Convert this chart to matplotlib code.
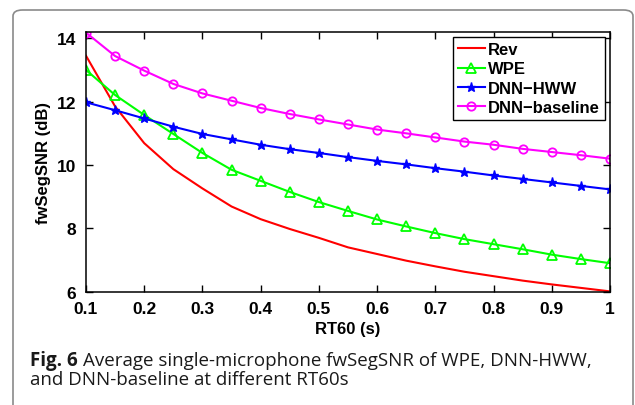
import matplotlib
matplotlib.use("Agg")
import matplotlib.pyplot as plt
from matplotlib.patches import FancyBboxPatch

rt60 = [0.10, 0.15, 0.20, 0.25, 0.30, 0.35, 0.40, 0.45, 0.50, 0.55,
        0.60, 0.65, 0.70, 0.75, 0.80, 0.85, 0.90, 0.95, 1.00]
rev = [13.45, 11.85, 10.69, 9.87, 9.26, 8.69, 8.29, 7.98, 7.70, 7.40,
       7.19, 6.98, 6.80, 6.63, 6.49, 6.35, 6.23, 6.12, 6.01]
wpe = [13.00, 12.21, 11.58, 10.98, 10.38, 9.85, 9.50, 9.15, 8.83, 8.55,
       8.28, 8.06, 7.85, 7.66, 7.50, 7.34, 7.17, 7.03, 6.90]
dnn_hww = [11.98, 11.73, 11.47, 11.21, 10.98, 10.81, 10.64, 10.50, 10.38, 10.25,
           10.13, 10.02, 9.90, 9.79, 9.67, 9.56, 9.45, 9.34, 9.23]
dnn_base = [14.18, 13.44, 12.98, 12.56, 12.26, 12.03, 11.80, 11.61, 11.44, 11.28,
            11.12, 11.00, 10.87, 10.74, 10.64, 10.51, 10.41, 10.31, 10.20]
xticks = [0.1, 0.2, 0.3, 0.4, 0.5, 0.6, 0.7, 0.8, 0.9, 1]
xticklabels = ["0.1", "0.2", "0.3", "0.4", "0.5", "0.6", "0.7", "0.8", "0.9", "1"]
yticks = [6, 8, 10, 12, 14]
caption_bold = "Fig. 6"
caption_line1 = "Average single-microphone fwSegSNR of WPE, DNN-HWW,"
caption_line2 = "and DNN-baseline at different RT60s"

W, H = 635, 406
fig = plt.figure(figsize=(W / 100, H / 100), dpi=100)
fig.patch.set_facecolor("white")

# outer rounded frame
frame = FancyBboxPatch((13 / W, -0.2), (633 - 13) / W, (H - 11) / H + 0.2,
                       boxstyle="round,pad=0,rounding_size=0.015",
                       transform=fig.transFigure, facecolor="white",
                       edgecolor="#8a8a8a", linewidth=1.2, zorder=-10)
fig.patches.append(frame)

left, right = 86 / W, 610 / W
bottom, top = (H - 292.7) / H, (H - 33) / H
ax = fig.add_axes([left, bottom, right - left, top - bottom])
ax.set_zorder(5)

font = "Liberation Sans"
ax.plot(rt60, rev, color="#ff0000", lw=1.5, label="Rev")
ax.plot(rt60, wpe, color="#00ff00", lw=1.5, marker="^", ms=6.5, mfc="none",
        mew=1.3, label="WPE")
ax.plot(rt60, dnn_hww, color="#0000ff", lw=1.5, marker="*", ms=6.5,
        mew=1.0, label="DNN\u2212HWW")
ax.plot(rt60, dnn_base, color="#ff00ff", lw=1.5, marker="o", ms=6, mfc="none",
        mew=1.3, label="DNN\u2212baseline")

ax.set_xlim(0.1, 1)
ax.set_ylim(6, 14.2)
ax.set_xticks(xticks)
ax.set_xticklabels(xticklabels)
ax.set_yticks(yticks)
ax.tick_params(direction="in", top=True, right=True, length=5, width=1,
               labelsize=12.5, pad=7)
for lab in ax.get_xticklabels() + ax.get_yticklabels():
    lab.set_fontfamily(font)
    lab.set_fontweight("bold")
for s in ax.spines.values():
    s.set_linewidth(1.1)

ax.set_xlabel("RT60 (s)", fontfamily=font, fontweight="bold", fontsize=12,
              labelpad=3)
ax.set_ylabel("fwSegSNR (dB)", fontfamily=font, fontweight="bold", fontsize=12,
              labelpad=4)

leg = ax.legend(loc="upper right", prop={"family": font, "weight": "bold", "size": 12},
                frameon=True, fancybox=False, edgecolor="black", framealpha=1,
                borderpad=0.3, labelspacing=0.26, handlelength=1.6,
                handletextpad=0.2, borderaxespad=0.3)
leg.get_frame().set_linewidth(1.0)

cap_font = "Open Sans"
cap_size = 12.0
col = "#1a1a1a"
t0 = fig.text(30 / W, 1 - 366.5 / H, caption_bold, fontfamily=cap_font, fontweight="bold",
              fontsize=cap_size, va="baseline", ha="left", color=col)
t1 = fig.text(83 / W, 1 - 366.5 / H, caption_line1,
              fontfamily=cap_font, fontsize=cap_size, va="baseline", ha="left", color=col)
t2 = fig.text(30 / W, 1 - 385 / H, caption_line2,
              fontfamily=cap_font, fontsize=cap_size, va="baseline", ha="left", color=col)

# scale caption font so line 1 spans from x=83 to x=588 px
fig.canvas.draw()
r = fig.canvas.get_renderer()
w1 = t1.get_window_extent(r).width
s = cap_size * (588 - 83) / w1
for t in (t0, t1, t2):
    t.set_fontsize(s)

fig.savefig("out.png", dpi=100, facecolor="white")
